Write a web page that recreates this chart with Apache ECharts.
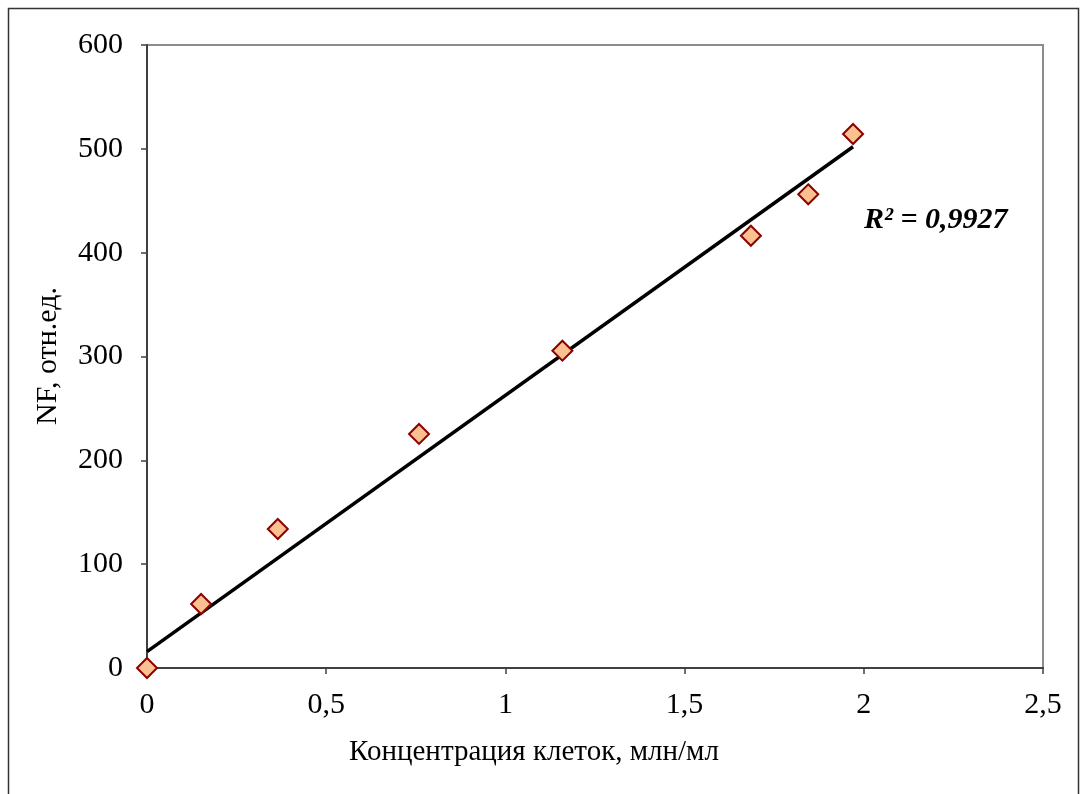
<!DOCTYPE html>
<html>
<head>
<meta charset="utf-8">
<script src="https://cdn.jsdelivr.net/npm/echarts@6/dist/echarts.min.js"></script>
<style>
  html, body { margin: 0; padding: 0; background: #fff; }
  #chart { width: 1084px; height: 794px; }
</style>
</head>
<body>
<div id="chart"></div>
<script>
// измерения: концентрация клеток (млн/мл) и NF (отн.ед.)
const concentration = [0, 0.151, 0.365, 0.759, 1.159, 1.685, 1.845, 1.97];
const nfValues = [0, 61.6, 133.9, 225.4, 305.6, 416.3, 456.2, 514.3];

// линия тренда, концы
const trendX = [0, 1.97];
const trendY = [15.7, 502];

const xTicks = [0, 0.5, 1, 1.5, 2, 2.5];
const yTicks = [0, 100, 200, 300, 400, 500, 600];

const xTitle = 'Концентрация клеток, млн/мл';
const yTitle = 'NF, отн.ед.';
const r2Text = 'R² = 0,9927';

const serif = '"Liberation Serif", "DejaVu Serif", serif';
const comma = v => String(v).replace('.', ',');

const chart = echarts.init(document.getElementById('chart'), null, { renderer: 'canvas' });

chart.setOption({
  animation: false,
  backgroundColor: '#fff',
  grid: {
    left: 147, top: 45, right: 41, bottom: 126,
    show: true,
    borderColor: '#8c8c8c',
    borderWidth: 2,
    backgroundColor: 'transparent'
  },
  xAxis: {
    type: 'value',
    min: xTicks[0],
    max: xTicks[xTicks.length - 1],
    interval: 0.5,
    axisLine: { show: true, onZero: false, lineStyle: { color: '#404040', width: 2 } },
    axisTick: { show: true, length: 6, lineStyle: { color: '#404040', width: 1.5 } },
    splitLine: { show: false },
    axisLabel: {
      margin: 22,
      color: '#000',
      fontFamily: serif,
      fontSize: 30,
      formatter: comma
    }
  },
  yAxis: {
    type: 'value',
    min: yTicks[0],
    max: yTicks[yTicks.length - 1],
    interval: 100,
    axisLine: { show: true, onZero: false, lineStyle: { color: '#404040', width: 2 } },
    axisTick: { show: true, length: 6, lineStyle: { color: '#404040', width: 1.5 } },
    splitLine: { show: false },
    axisLabel: {
      margin: 24,
      color: '#000',
      fontFamily: serif,
      fontSize: 30,
      formatter: comma
    }
  },
  graphic: [
    {
      type: 'rect',
      z: -10,
      shape: { x: 8.5, y: 8.5, width: 1070, height: 800 },
      style: { fill: 'transparent', stroke: '#333', lineWidth: 1.5 }
    },
    {
      type: 'text',
      x: 534, y: 752,
      style: {
        text: xTitle, font: '29px ' + serif, fill: '#000',
        textAlign: 'center', textVerticalAlign: 'middle'
      }
    },
    {
      type: 'text',
      x: 48, y: 356,
      rotation: Math.PI / 2,
      style: {
        text: yTitle, font: '30px ' + serif, fill: '#000',
        textAlign: 'center', textVerticalAlign: 'middle'
      }
    },
    {
      type: 'text',
      x: 864, y: 220,
      style: {
        text: r2Text, font: 'italic bold 30px ' + serif, fill: '#000',
        textAlign: 'left', textVerticalAlign: 'middle'
      }
    }
  ],
  series: [
    {
      name: 'trend',
      type: 'line',
      data: trendX.map((x, i) => [x, trendY[i]]),
      symbol: 'none',
      lineStyle: { color: '#000', width: 3.5 },
      z: 2,
      silent: true
    },
    {
      name: 'NF',
      type: 'scatter',
      data: concentration.map((x, i) => [x, nfValues[i]]),
      symbol: 'diamond',
      symbolSize: [20, 20],
      itemStyle: { color: '#FAC090', borderColor: '#8B0000', borderWidth: 2, opacity: 1 },
      z: 3
    }
  ]
});
</script>
</body>
</html>
